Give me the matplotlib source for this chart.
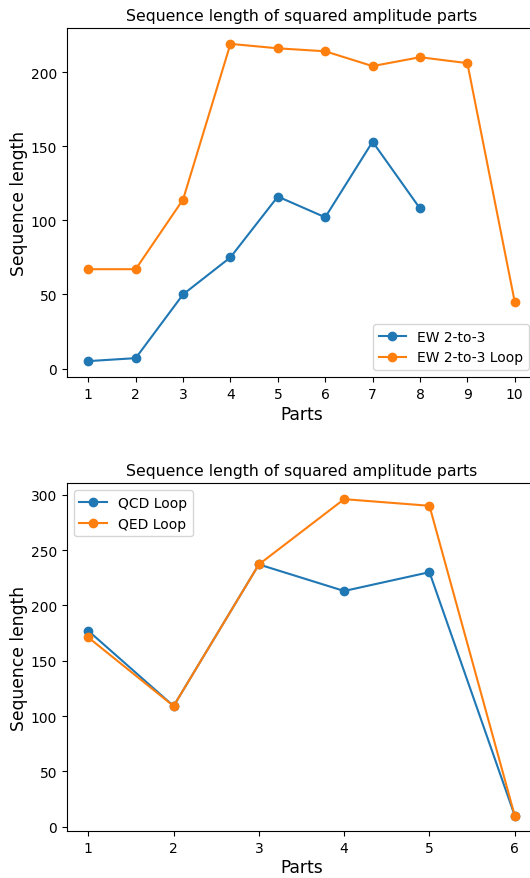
import numpy as np
import matplotlib
matplotlib.use('Agg')
import matplotlib.pyplot as plt

ew_parts = [1, 2, 3, 4, 5, 6, 7, 8]
ew = [5, 7, 50, 75, 116, 102, 153, 108]
ew_loop_parts = [1, 2, 3, 4, 5, 6, 7, 8, 9, 10]
ew_loop = [67, 67, 114, 219, 216, 214, 204, 210, 206, 45]

q_parts = [1, 2, 3, 4, 5, 6]
qcd_loop = [177, 109, 237, 213, 230, 10]
qed_loop = [171, 109, 237, 296, 290, 10]

title = 'Sequence length of squared amplitude parts'

fig = plt.figure(figsize=(5.3, 8.79), dpi=100)
ax1 = fig.add_axes([0.1264, 0.570, 0.885, 0.397])
ax2 = fig.add_axes([0.1264, 0.053, 0.885, 0.396])

ax1.plot(ew_parts, ew, marker='o', label='EW 2-to-3')
ax1.plot(ew_loop_parts, ew_loop, marker='o', label='EW 2-to-3 Loop')
ax1.set_xticks(ew_loop_parts)
ax1.set_title(title, fontsize=11.3)
ax1.set_xlabel('Parts', fontsize=12.3, labelpad=3)
ax1.set_ylabel('Sequence length', fontsize=12.3, labelpad=2)
ax1.legend(loc='lower right')

ax2.plot(q_parts, qcd_loop, marker='o', label='QCD Loop')
ax2.plot(q_parts, qed_loop, marker='o', label='QED Loop')
ax2.set_xticks(q_parts)
ax2.set_title(title, fontsize=11.3)
ax2.set_xlabel('Parts', fontsize=12.3, labelpad=2)
ax2.set_ylabel('Sequence length', fontsize=12.3, labelpad=2)
ax2.legend(loc='upper left')

fig.savefig('out.png', dpi=100)
